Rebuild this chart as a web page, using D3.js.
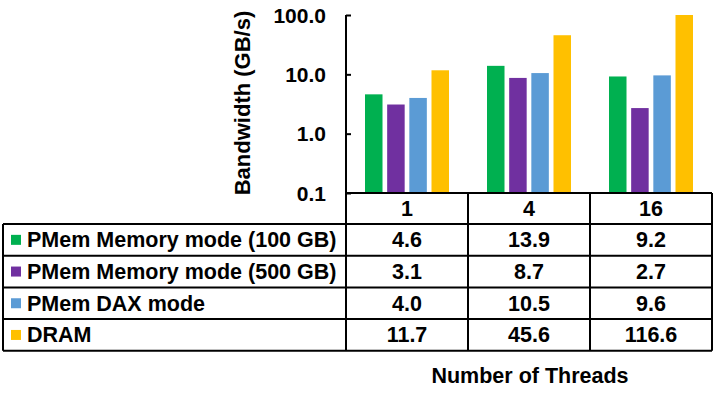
<!DOCTYPE html>
<html lang="en">
<head>
  <meta charset="UTF-8">
  <title>Bandwidth by threads</title>
  <script src="https://d3js.org/d3.v7.min.js"></script>
  <style>
    body { margin: 0; background: #fff; }
    text { font-family: Arial, "Liberation Sans", sans-serif; font-weight: bold; fill: #000; }
  </style>
</head>
<body>
<div id="chart"></div>
<script>
  // data
  const threads = ["1", "4", "16"];
  const seriesNames = ["PMem Memory mode (100 GB)", "PMem Memory mode (500 GB)", "PMem DAX mode", "DRAM"];
  const mem100 = [4.6, 13.9, 9.2];
  const mem500 = [3.1, 8.7, 2.7];
  const dax = [4.0, 10.5, 9.6];
  const dram = [11.7, 45.6, 116.6];
  const yTicks = [0.1, 1, 10, 100];
  const colors = ["#00B050", "#7030A0", "#5B9BD5", "#FFC000"];

  const series = [mem100, mem500, dax, dram];

  const width = 720, height = 393;
  const svg = d3.select("#chart").append("svg")
      .attr("width", width)
      .attr("height", height);

  // plot area
  const plotLeft = 346, plotRight = 712, plotTop = 15, plotBottom = 193;
  const tableLeft = 3, rowH = 31.7, headerBottom = 224;

  const x0 = d3.scaleBand().domain(threads).range([plotLeft, plotRight]);
  const x1 = d3.scaleBand().domain(d3.range(series.length))
      .range([19, x0.bandwidth() - 19]).paddingInner(0.21);
  const y = d3.scaleLog().domain([0.1, 100]).range([plotBottom, plotTop]).clamp(true);

  // bars
  const g = svg.append("g");
  threads.forEach((t, ti) => {
    series.forEach((s, si) => {
      g.append("rect")
          .attr("x", x0(t) + x1(si))
          .attr("width", x1.bandwidth())
          .attr("y", y(s[ti]))
          .attr("height", plotBottom - y(s[ti]))
          .attr("fill", colors[si]);
    });
  });

  // y axis
  const yAxis = d3.axisRight(y).tickValues(yTicks).tickSize(5).tickFormat("");
  const ya = svg.append("g").attr("transform", `translate(${plotLeft},0)`).call(yAxis);
  ya.select(".domain").attr("stroke", "#000").attr("stroke-width", 2)
      .attr("d", `M0,${plotTop}V${plotBottom}`);
  ya.selectAll(".tick line").attr("stroke", "#000").attr("stroke-width", 2);

  svg.append("g").selectAll("text").data(yTicks).join("text")
      .attr("x", 326)
      .attr("y", d => y(d) + 7.5)
      .attr("text-anchor", "end")
      .style("font-size", "21px")
      .text(d => d3.format(".1f")(d));

  svg.append("text")
      .attr("transform", `translate(250,103) rotate(-90)`)
      .attr("text-anchor", "middle")
      .style("font-size", "22px")
      .text("Bandwidth (GB/s)");

  // data table
  const lines = svg.append("g").attr("stroke", "#000").attr("stroke-width", 2).attr("fill", "none");
  const nRows = series.length;
  const tableBottom = headerBottom + nRows * rowH;
  // x axis / header top
  lines.append("path").attr("d", `M${plotLeft},${plotBottom}H${plotRight}`);
  // horizontal row lines
  d3.range(nRows + 1).forEach(i => {
    lines.append("path").attr("d", `M${tableLeft},${headerBottom + i * rowH}H${plotRight}`);
  });
  // vertical lines
  lines.append("path").attr("d", `M${tableLeft},${headerBottom}V${tableBottom}`);
  [plotLeft, x0("4"), x0("16"), plotRight].forEach(xv => {
    lines.append("path").attr("d", `M${xv},${plotBottom}V${tableBottom}`);
  });

  // header labels
  svg.append("g").selectAll("text").data(threads).join("text")
      .attr("x", d => x0(d) + x0.bandwidth() / 2)
      .attr("y", plotBottom + (headerBottom - plotBottom) / 2 + 7.5)
      .attr("text-anchor", "middle")
      .style("font-size", "21.5px")
      .text(d => d);

  // rows
  series.forEach((s, si) => {
    const cy = headerBottom + si * rowH + rowH / 2;
    svg.append("rect")
        .attr("x", 11).attr("y", cy - 5)
        .attr("width", 10).attr("height", 10)
        .attr("fill", colors[si]);
    svg.append("text")
        .attr("x", 27).attr("y", cy + 7.5)
        .style("font-size", "21.5px")
        .text(seriesNames[si]);
    threads.forEach((t, ti) => {
      svg.append("text")
          .attr("x", x0(t) + x0.bandwidth() / 2)
          .attr("y", cy + 7.5)
          .attr("text-anchor", "middle")
          .style("font-size", "21.5px")
          .text(d3.format(".1f")(s[ti]));
    });
  });

  svg.append("text")
      .attr("x", 530).attr("y", 383)
      .attr("text-anchor", "middle")
      .style("font-size", "21.5px")
      .text("Number of Threads");
</script>
</body>
</html>
